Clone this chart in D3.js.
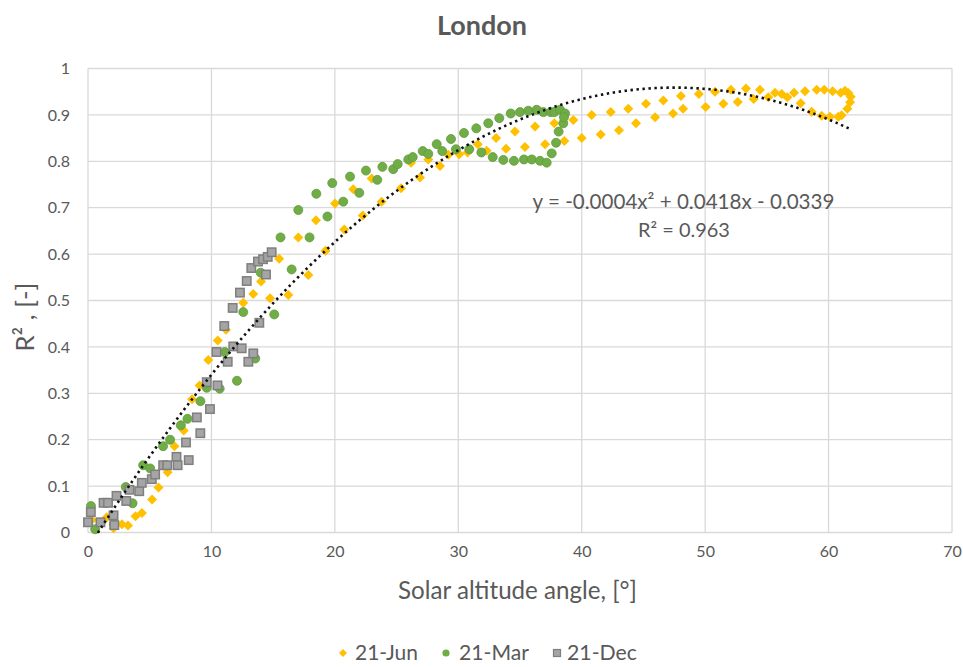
<!DOCTYPE html>
<html>
<head>
<meta charset="utf-8">
<script src="https://cdn.jsdelivr.net/npm/d3@7/dist/d3.min.js"></script>
<style>
  html, body { margin: 0; padding: 0; background: #fff; }
  svg text { font-family: Lato, "Open Sans", sans-serif; fill: #595959; }
</style>
</head>
<body>
<svg id="chart" width="963" height="667"></svg>
<script>
// ---------------- DATA ----------------
const title = "London";
const xTicks = [0, 10, 20, 30, 40, 50, 60, 70];
const yTicks = [0, 0.1, 0.2, 0.3, 0.4, 0.5, 0.6, 0.7, 0.8, 0.9, 1];
const seriesNames = ["21-Jun", "21-Mar", "21-Dec"];

// 21-Jun : [solar altitude, R2]
const jun = [
  [0.32,0.027],[1.52,0.033],[2.07,0.009],[2.75,0.018],[3.24,0.015],[3.85,0.035],[4.37,0.042],
  [5.19,0.071],[5.71,0.097],[6.45,0.130],[7.01,0.186],[7.76,0.220],[8.43,0.287],[9.04,0.317],
  [9.75,0.372],[10.51,0.414],[11.18,0.437],[12.58,0.495],[13.39,0.514],[14.02,0.541],[14.75,0.505],
  [15.49,0.590],[16.23,0.512],[17.04,0.636],[17.85,0.555],[18.47,0.673],[19.24,0.607],[20.01,0.709],
  [20.76,0.653],[21.49,0.740],[22.26,0.683],[22.98,0.763],[23.79,0.713],[25.36,0.742],[26.17,0.797],
  [26.90,0.765],[27.57,0.804],[28.52,0.790],[29.19,0.814],[30.08,0.815],[30.75,0.819],[31.58,0.837],
  [32.30,0.823],[33.06,0.850],[33.87,0.827],[34.59,0.864],[35.40,0.831],[36.22,0.875],[37.03,0.837],
  [37.78,0.882],[38.59,0.844],[39.32,0.889],[40.00,0.850],[40.81,0.900],[41.54,0.858],[42.35,0.906],
  [43.02,0.867],[43.77,0.913],[44.40,0.882],[45.21,0.924],[45.95,0.895],[46.61,0.931],[47.40,0.903],
  [48.04,0.941],[48.21,0.913],[49.49,0.945],[50.04,0.917],[50.80,0.950],[51.47,0.924],[52.09,0.954],
  [52.64,0.928],[53.31,0.957],[53.93,0.934],[54.44,0.954],[55.12,0.938],[55.66,0.948],[56.20,0.945],
  [56.66,0.938],[57.20,0.948],[57.74,0.925],[58.09,0.951],[58.63,0.907],[59.04,0.954],[59.44,0.898],
  [59.65,0.954],[60.11,0.896],[60.33,0.951],[60.79,0.896],[61.06,0.899],[60.98,0.948],[61.33,0.952],
  [61.60,0.947],[61.79,0.939],[61.74,0.927],[61.52,0.913]
];

// 21-Mar
const mar = [
  [0.24,0.057],[0.58,0.007],[2.09,0.018],[3.06,0.098],[3.61,0.063],[4.47,0.145],[5.04,0.138],
  [6.08,0.186],[6.65,0.200],[7.52,0.231],[8.06,0.245],[9.11,0.283],[9.62,0.312],[10.67,0.310],
  [12.07,0.327],[11.08,0.389],[13.55,0.375],[12.58,0.475],[13.99,0.560],[15.09,0.470],[16.50,0.567],
  [15.60,0.636],[17.04,0.695],[17.95,0.636],[18.50,0.730],[19.40,0.681],[19.79,0.753],[20.68,0.713],
  [21.23,0.767],[21.98,0.732],[22.52,0.780],[23.44,0.760],[23.85,0.788],[24.73,0.783],[25.09,0.794],
  [25.95,0.804],[26.31,0.809],[27.12,0.822],[27.57,0.816],[28.25,0.837],[28.70,0.822],[29.41,0.848],
  [29.81,0.826],[30.46,0.861],[30.89,0.826],[31.46,0.871],[31.87,0.819],[32.43,0.882],[32.79,0.809],
  [33.32,0.893],[33.65,0.803],[34.25,0.903],[34.51,0.801],[35.00,0.906],[35.32,0.804],[35.67,0.909],
  [35.95,0.804],[36.35,0.911],[36.62,0.801],[36.89,0.906],[37.16,0.797],[37.49,0.906],[37.57,0.817],
  [37.78,0.906],[37.92,0.840],[38.13,0.864],[38.24,0.911],[38.51,0.882],[38.65,0.903],[38.56,0.895]
];

// 21-Dec
const dec = [
  [0.00,0.022],[0.23,0.044],[1.01,0.022],[1.26,0.064],[1.62,0.064],[2.07,0.037],[2.13,0.016],
  [2.31,0.079],[3.10,0.068],[3.36,0.092],[4.15,0.089],[4.36,0.107],[5.17,0.115],[5.44,0.125],
  [6.09,0.145],[6.42,0.145],[7.17,0.163],[7.26,0.145],[8.16,0.156],[7.94,0.194],[9.10,0.214],
  [8.82,0.248],[9.88,0.266],[9.62,0.324],[10.49,0.317],[10.41,0.389],[11.32,0.368],[11.77,0.401],
  [12.45,0.397],[12.99,0.368],[13.39,0.386],[11.04,0.445],[13.88,0.452],[11.72,0.484],[12.31,0.517],
  [12.86,0.542],[13.23,0.570],[14.42,0.556],[13.77,0.584],[14.18,0.589],[14.56,0.594],[14.88,0.604]
];

// Polynomial trendline (order 2) coefficients [a, b, c] and x-range
const trendCoef = [-0.00044, 0.0418, -0.0339];
const trendRange = [0.8, 61.8];
const trendLabel1 = "y = -0.0004x\u00B2 + 0.0418x  - 0.0339";
const trendLabel2 = "R\u00B2 = 0.963";

// ---------------- CHART ----------------
const svg = d3.select("#chart");
const margin = { left: 88, right: 11, top: 68.5, bottom: 134.5 };
const W = 963, H = 667;
const x = d3.scaleLinear().domain([0, 70]).range([margin.left, W - margin.right]);
const y = d3.scaleLinear().domain([0, 1]).range([H - margin.bottom, margin.top]);

// scale a text's font size so that it spans a given width
function fit(sel, width) {
  const node = sel.node();
  const fs = parseFloat(sel.attr("font-size"));
  const len = node.getComputedTextLength();
  if (len > 0) sel.attr("font-size", (fs * width / len).toFixed(2));
  return sel;
}

const gridColor = "#d9d9d9";

// gridlines
svg.append("g").selectAll("line").data(yTicks).join("line")
  .attr("x1", x(0)).attr("x2", x(70))
  .attr("y1", d => y(d)).attr("y2", d => y(d))
  .attr("stroke", gridColor).attr("stroke-width", 1.3);
svg.append("g").selectAll("line").data(xTicks).join("line")
  .attr("y1", y(0)).attr("y2", y(1))
  .attr("x1", d => x(d)).attr("x2", d => x(d))
  .attr("stroke", gridColor).attr("stroke-width", 1.3);

// axes (tick labels only)
const yAxis = d3.axisLeft(y).tickValues(yTicks).tickSize(0).tickPadding(18)
  .tickFormat(d => String(+d.toFixed(1)));
const gy = svg.append("g").attr("transform", `translate(${x(0)},0)`).call(yAxis);
gy.select(".domain").remove();
gy.selectAll("text").attr("font-size", 16).attr("fill", "#595959")
  .style("font-family", 'Lato, sans-serif');

const xAxis = d3.axisBottom(x).tickValues(xTicks).tickSize(0).tickPadding(13);
const gx = svg.append("g").attr("transform", `translate(0,${y(0)})`).call(xAxis);
gx.select(".domain").remove();
gx.selectAll("text").attr("font-size", 16).attr("fill", "#595959")
  .style("font-family", 'Lato, sans-serif');

// markers
const cJun = "#ffc000", cMar = "#70ad47", cDec = "#a5a5a5";
const plot = svg.append("g");

plot.append("g").selectAll("path").data(jun).join("path")
  .attr("transform", d => `translate(${x(d[0])},${y(d[1])})`)
  .attr("d", "M0,-5L5,0L0,5L-5,0Z")
  .attr("fill", cJun);

plot.append("g").selectAll("circle").data(mar).join("circle")
  .attr("cx", d => x(d[0])).attr("cy", d => y(d[1])).attr("r", 4.5)
  .attr("fill", cMar).attr("stroke", "#5f9a3b").attr("stroke-width", 0.8);

plot.append("g").selectAll("rect").data(dec).join("rect")
  .attr("x", d => x(d[0]) - 4.2).attr("y", d => y(d[1]) - 4.2)
  .attr("width", 8.4).attr("height", 8.4)
  .attr("fill", cDec).attr("stroke", "#7f7f7f").attr("stroke-width", 1.5);

// trendline
const tx = d3.range(trendRange[0], trendRange[1] + 0.001, 0.2);
const trendPts = tx.map(v => [v, trendCoef[0] * v * v + trendCoef[1] * v + trendCoef[2]]);
svg.append("path").datum(trendPts)
  .attr("d", d3.line().x(d => x(d[0])).y(d => y(d[1])))
  .attr("fill", "none").attr("stroke", "#111").attr("stroke-width", 2.6)
  .attr("stroke-dasharray", "2.4,3.6");

// trendline label
fit(svg.append("text").attr("x", 683.5).attr("y", 209).attr("text-anchor", "middle")
  .attr("font-size", 18).text(trendLabel1), 302);
fit(svg.append("text").attr("x", 684).attr("y", 237).attr("text-anchor", "middle")
  .attr("font-size", 18).text(trendLabel2), 92);

// title
fit(svg.append("text").attr("x", 482).attr("y", 35).attr("text-anchor", "middle")
  .attr("font-size", 22).attr("font-weight", "bold").text(title), 90);

// axis titles
fit(svg.append("text").attr("x", 517.5).attr("y", 599).attr("text-anchor", "middle")
  .attr("font-size", 20).text("Solar altitude angle, [\u00B0]"), 239);
fit(svg.append("text").attr("transform", `translate(34,317) rotate(-90)`)
  .attr("text-anchor", "middle").attr("font-size", 20).text("R\u00B2 , [-]"), 69);

// legend
const leg = svg.append("g").attr("transform", "translate(0,653)");
const legItems = [
  { name: seriesNames[0], x: 343, tx: 355, w: 63, type: "diamond", c: cJun },
  { name: seriesNames[1], x: 446, tx: 459, w: 70, type: "circle", c: cMar },
  { name: seriesNames[2], x: 557, tx: 561, w: 76, type: "square", c: cDec }
];
legItems.forEach(it => {
  if (it.type === "diamond") {
    leg.append("path").attr("transform", `translate(${it.x},0)`)
      .attr("d", "M0,-4L4,0L0,4L-4,0Z").attr("fill", it.c);
  } else if (it.type === "circle") {
    leg.append("circle").attr("cx", it.x).attr("cy", 0).attr("r", 3.6).attr("fill", it.c);
  } else {
    leg.append("rect").attr("x", it.x - 3.5).attr("y", -3.5).attr("width", 7).attr("height", 7)
      .attr("fill", it.c).attr("stroke", "#7f7f7f").attr("stroke-width", 1.2);
  }
  fit(leg.append("text").attr("x", it.tx + (it.type === "square" ? 6 : 0)).attr("y", 6.5)
    .attr("font-size", 18).text(it.name), it.w - (it.type === "square" ? 6 : 0));
});
</script>
</body>
</html>
